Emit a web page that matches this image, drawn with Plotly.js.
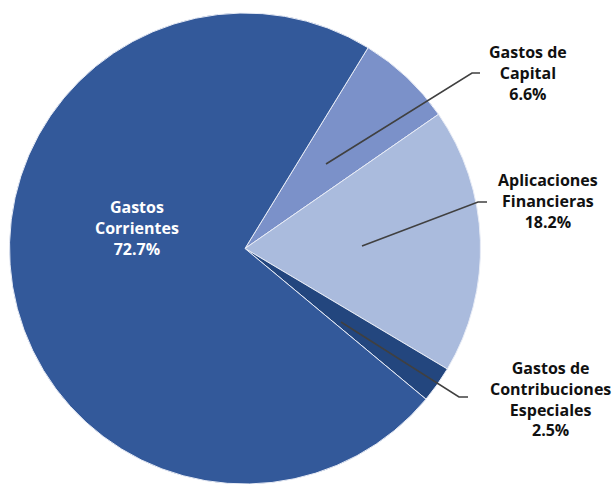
<!DOCTYPE html>
<html><head><meta charset="utf-8">
<script src="https://cdn.plot.ly/plotly-3.0.1.min.js"></script>
<style>html,body{margin:0;padding:0;background:#fff}#chart{width:612px;height:484px}</style>
</head><body><div id="chart"></div>
<script>
const categories = ["Gastos de Capital", "Aplicaciones Financieras", "Gastos de Contribuciones Especiales", "Gastos Corrientes"];
const values = [6.6, 18.2, 2.5, 72.7];
const labelTexts = ["Gastos de<br>Capital<br>6.6%", "Aplicaciones<br>Financieras<br>18.2%", "Gastos de<br>Contribuciones<br>Especiales<br>2.5%", "Gastos<br>Corrientes<br>72.7%"];
const colors = ["#7B91C9", "#AABBDD", "#23467E", "#33599A"];

const W = 612, H = 484;
const px = x => x / W, py = y => 1 - y / H;

// label positions (pixels) and leader lines
const labelPos = [[528, 73], [548, 201], [550, 399], [137, 228]];
const leaders = [
  [[326,164],[472,73],[480,73]],
  [[362,246],[478,202],[487,202]],
  [[341,322],[459,397],[468,397]],
  null
];

const shapes = [];
leaders.forEach(l => {
  if (!l) return;
  let path = 'M ' + l.map(p => px(p[0]) + ',' + py(p[1])).join(' L ');
  shapes.push({type:'path', xref:'paper', yref:'paper', path: path,
    line:{color:'#404040', width:1.6}});
});

const annotations = labelTexts.map((t, i) => ({
  xref:'paper', yref:'paper', x: px(labelPos[i][0]), y: py(labelPos[i][1]),
  xanchor:'center', yanchor:'middle', showarrow:false, text:t, align:'center',
  font:{family:'"Open Sans", Lato, sans-serif', size:16, weight:'bold', color: i===3 ? '#ffffff' : '#111111'}
}));

Plotly.newPlot('chart', [{
  type:'pie', labels: categories, values: values, sort:false,
  direction:'clockwise', rotation:31.5,
  marker:{colors: colors, line:{color:'#E8ECF6', width:1}},
  textinfo:'none', hoverinfo:'label+percent',
  domain:{x:[9.5/W, 480.5/W], y:[0, 1 - 13/H]}
}], {
  width:W, height:H, margin:{l:0,r:0,t:0,b:0}, showlegend:false,
  paper_bgcolor:'#ffffff', shapes: shapes, annotations: annotations
}, {displayModeBar:false, staticPlot:true});
</script></body></html>
